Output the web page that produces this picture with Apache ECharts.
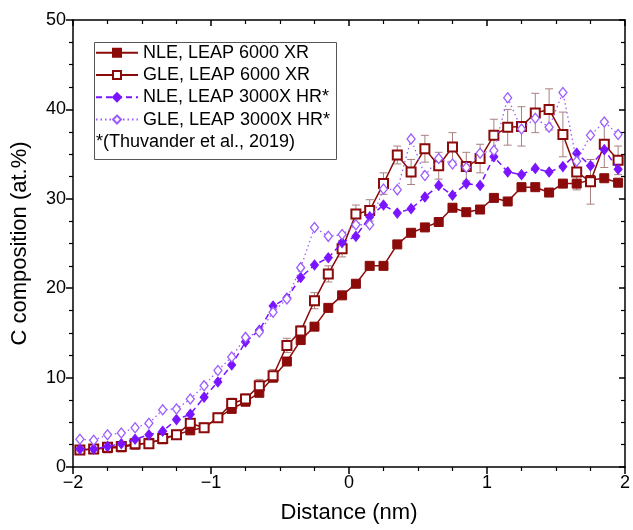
<!DOCTYPE html>
<html>
<head>
<meta charset="utf-8">
<script src="https://cdn.jsdelivr.net/npm/echarts@6/dist/echarts.min.js"></script>
<style>
html,body{margin:0;padding:0;background:#fff;}
#chart{width:633px;height:530px;}
</style>
</head>
<body>
<div id="chart"></div>
<script>
const distance = [-1.95,-1.85,-1.75,-1.65,-1.55,-1.45,-1.35,-1.25,-1.15,-1.05,
  -0.95,-0.85,-0.75,-0.65,-0.55,-0.45,-0.35,-0.25,-0.15,-0.05,
  0.05,0.15,0.25,0.35,0.45,0.55,0.65,0.75,0.85,0.95,
  1.05,1.15,1.25,1.35,1.45,1.55,1.65,1.75,1.85,1.95];

const nle6000 = [1.9,2.0,2.1,2.2,2.5,2.7,3.1,3.6,4.1,4.4,
  5.5,6.5,7.3,8.3,10.0,11.8,14.2,15.7,17.8,19.2,
  20.5,22.5,22.5,24.9,26.2,26.8,27.4,29.0,28.5,28.8,
  30.1,29.7,31.3,31.3,30.7,31.7,31.7,32.1,32.3,31.8];

const gle6000 = [1.9,2.0,2.2,2.3,2.6,2.6,3.2,3.6,4.9,4.4,
  5.5,7.1,7.6,9.1,10.2,13.6,15.2,18.6,21.6,24.4,
  28.3,28.7,31.7,34.9,33.0,35.6,33.7,35.8,33.6,34.5,
  37.1,38.0,38.1,39.6,40.0,37.2,33.0,31.9,36.1,34.3];

const gle6000Err = [0.2,0.2,0.2,0.2,0.3,0.3,0.3,0.4,0.5,0.4,
  0.5,0.6,0.6,0.7,0.7,0.8,0.6,0.9,0.9,0.9,
  1.0,1.2,1.2,1.0,1.4,1.5,1.5,1.6,1.6,1.6,
  1.8,2.0,2.2,2.2,2.3,2.5,2.0,2.5,2.6,1.6];

const nle3000 = [2.0,2.0,2.3,2.6,3.1,3.6,4.0,5.3,5.9,7.8,
  9.5,11.4,14.0,15.3,18.0,18.9,21.2,22.6,23.4,25.1,
  25.8,28.0,29.3,28.4,28.9,30.2,31.5,30.4,31.7,31.5,
  34.7,33.0,32.7,33.4,33.0,33.6,35.1,33.7,35.5,33.3];

const gle3000 = [3.1,3.0,3.6,3.8,4.4,4.9,6.4,6.5,7.6,9.1,
  10.8,12.3,14.5,15.1,17.3,18.8,22.3,26.8,25.8,26.0,
  27.1,27.1,31.1,31.0,36.7,32.6,34.5,33.9,33.5,35.1,
  35.4,41.3,37.8,39.0,38.0,41.9,34.2,37.1,38.6,37.2];

const seriesNames = ['NLE, LEAP 6000 XR','GLE, LEAP 6000 XR','NLE, LEAP 3000X HR*','GLE, LEAP 3000X HR*'];
const citation = '*(Thuvander et al., 2019)';
const xTicks = [-2,-1,0,1,2];
const yTicks = [0,10,20,30,40,50];

const pairs = arr => distance.map((d,i)=>[d,arr[i]]);
const errData = distance.map((d,i)=>[d,gle6000[i]-gle6000Err[i],gle6000[i]+gle6000Err[i]]);

const RED = '#8B0A0A';
const VIO = '#7A14FF';
const VIO2 = '#9B5CFF';
const FONT = 'Liberation Sans, Arial, sans-serif';

const fmtX = v => (v<0 ? '\u2212'+Math.abs(v) : String(v));

const chart = echarts.init(document.getElementById('chart'));
const axisLine = {show:true, onZero:false, lineStyle:{color:'#000', width:1.5}};
chart.setOption({
  animation:false,
  backgroundColor:'#fff',
  grid:{left:73, right:4, top:20, bottom:63},
  xAxis:[
    {type:'value', min:xTicks[0], max:xTicks[xTicks.length-1], interval:1, position:'bottom',
     axisLine, splitLine:{show:false},
     axisTick:{show:true, inside:false, length:7, lineStyle:{color:'#000', width:1.5}},
     minorTick:{show:true, splitNumber:4, length:4, lineStyle:{color:'#000', width:1.2}},
     axisLabel:{formatter:fmtX, color:'#000', fontSize:18, fontFamily:FONT, margin:7},
     name:'Distance (nm)', nameLocation:'middle', nameGap:35,
     nameTextStyle:{color:'#000', fontSize:22, fontFamily:FONT}},
    {type:'value', min:xTicks[0], max:xTicks[xTicks.length-1], interval:1, position:'top',
     axisLine, splitLine:{show:false},
     axisTick:{show:true, inside:true, length:6, lineStyle:{color:'#000', width:1.5}},
     minorTick:{show:true, splitNumber:4, length:4, lineStyle:{color:'#000', width:1.2}},
     axisLabel:{show:false}}
  ],
  yAxis:[
    {type:'value', min:yTicks[0], max:yTicks[yTicks.length-1], interval:10, position:'left',
     axisLine, splitLine:{show:false},
     axisTick:{show:true, inside:false, length:7, lineStyle:{color:'#000', width:1.5}},
     minorTick:{show:true, splitNumber:4, length:4, lineStyle:{color:'#000', width:1.2}},
     axisLabel:{color:'#000', fontSize:18, fontFamily:FONT, margin:7},
     name:'C composition (at.%)', nameLocation:'middle', nameGap:42,
     nameTextStyle:{color:'#000', fontSize:22, fontFamily:FONT}},
    {type:'value', min:yTicks[0], max:yTicks[yTicks.length-1], interval:10, position:'right',
     axisLine, splitLine:{show:false},
     axisTick:{show:true, inside:true, length:6, lineStyle:{color:'#000', width:1.5}},
     minorTick:{show:true, splitNumber:4, length:4, lineStyle:{color:'#000', width:1.2}},
     axisLabel:{show:false}}
  ],
  legend:{
    orient:'vertical', left:95, top:41.5, itemWidth:42, itemHeight:10, itemGap:0,
    padding:[0,0,0,0],
    textStyle:{color:'#000', fontSize:18, fontFamily:FONT, lineHeight:22.3},
    data:seriesNames
  },
  graphic:[
    {type:'rect', left:92, top:40, shape:{width:242, height:117},
     style:{fill:'none', stroke:'#555', lineWidth:1}, z:100},
    {type:'text', x:96, y:142, style:{text:citation, fill:'#000', font:'18px '+FONT, verticalAlign:'middle'}, z:100}
  ],
  series:[
    {name:seriesNames[0], type:'line', data:pairs(nle6000), symbol:'rect', symbolSize:9,
     itemStyle:{color:RED, borderColor:RED, borderWidth:1},
     lineStyle:{color:RED, width:1.5}, z:3},
    {name:'gle6000err', type:'custom', data:errData, z:2,
     renderItem:(params, api)=>{
       const x = api.value(0);
       const lo = api.coord([x, api.value(1)]);
       const hi = api.coord([x, api.value(2)]);
       const cw = 4;
       return {type:'group', children:[
         {type:'line', shape:{x1:lo[0], y1:lo[1], x2:hi[0], y2:hi[1]}, style:{stroke:'#A88080', lineWidth:1}},
         {type:'line', shape:{x1:lo[0]-cw, y1:lo[1], x2:lo[0]+cw, y2:lo[1]}, style:{stroke:'#A88080', lineWidth:1}},
         {type:'line', shape:{x1:hi[0]-cw, y1:hi[1], x2:hi[0]+cw, y2:hi[1]}, style:{stroke:'#A88080', lineWidth:1}}
       ]};
     }},
    {name:seriesNames[1], type:'line', data:pairs(gle6000), symbol:'rect', symbolSize:9,
     itemStyle:{color:'#fff', borderColor:RED, borderWidth:2},
     lineStyle:{color:RED, width:1.5}, z:4},
    {name:seriesNames[2], type:'line', data:pairs(nle3000), symbol:'diamond', symbolSize:[8,10],
     itemStyle:{color:VIO, borderColor:VIO, borderWidth:1},
     lineStyle:{color:VIO, width:1.5, type:[6,4]}, z:5},
    {name:seriesNames[3], type:'line', data:pairs(gle3000), symbol:'diamond', symbolSize:[8,10],
     itemStyle:{color:'#fff', borderColor:VIO2, borderWidth:1.3},
     lineStyle:{color:VIO2, width:1.3, type:[1.5,3]}, z:6}
  ]
});
</script>
</body>
</html>
